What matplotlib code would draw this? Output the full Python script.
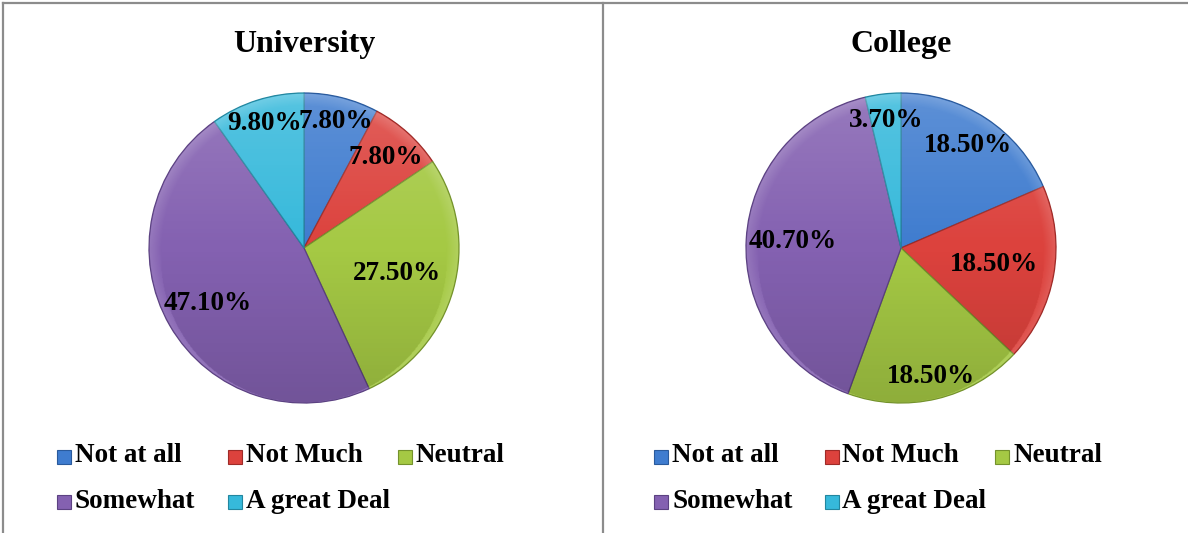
import numpy as np
import matplotlib.pyplot as plt
from matplotlib.patches import Rectangle, Circle
from matplotlib.lines import Line2D

# survey answers, percent of respondents
categories = ['Not at all', 'Not Much', 'Neutral', 'Somewhat', 'A great Deal']
university = [7.8, 7.8, 27.5, 47.1, 9.8]
college = [18.5, 18.5, 18.5, 40.7, 3.7]
titles = ['University', 'College']

colors = ['#3F7CCF', '#DC423D', '#A5C944', '#8461B1', '#36B9DB']
edges = ['#2A5A9C', '#9E2B28', '#74922C', '#5C4282', '#23869F']

# label distance from centre for each slice (fraction of radius)
uni_dist = [0.84, 0.79, 0.62, 0.72, 0.84]
col_dist = [0.79, 0.61, 0.85, 0.70, 0.83]

font = 'Liberation Serif'

W, H = 1188, 533
fig = plt.figure(figsize=(W / 100, H / 100), dpi=100)
fig.patch.set_facecolor('white')

# panel frame lines
grey = '#8C8C8C'
fig.add_artist(Line2D([3 / W, 3 / W], [0, 1 - 3 / H], color=grey, lw=1.6))
fig.add_artist(Line2D([3 / W, 1], [1 - 3 / H, 1 - 3 / H], color=grey, lw=1.6))
fig.add_artist(Line2D([603 / W, 603 / W], [0, 1 - 3 / H], color=grey, lw=1.6))

# soft shading laid over each pie: lighter at the top, darker at the bottom,
# with a thin bright rim
n = 400
gx, gy = np.meshgrid(np.linspace(-1, 1, n), np.linspace(1, -1, n))
rr = np.hypot(gx, gy)
shade = np.zeros((n, n, 4))
light = np.clip(gy, 0, 1) * 0.16 + np.clip((rr - 0.92) / 0.08, 0, 1) * 0.14
dark = np.clip(-gy, 0, 1) * 0.14
shade[..., :3] = np.where((light > dark)[..., None], 1.0, 0.0)
shade[..., 3] = np.maximum(light, dark)

centres = [304, 901]
radius = 155
cy = 248

for k, (vals, dist, title) in enumerate(zip([university, college],
                                             [uni_dist, col_dist], titles)):
    cx = centres[k]
    ax = fig.add_axes([(cx - radius) / W, (H - cy - radius) / H,
                       2 * radius / W, 2 * radius / H])
    wedges, _ = ax.pie(vals, colors=colors, startangle=90, counterclock=False,
                       radius=1.0, wedgeprops=dict(linewidth=0.9))
    for w, ec in zip(wedges, edges):
        w.set_edgecolor(ec)

    im = ax.imshow(shade, extent=(-1, 1, -1, 1), zorder=3, interpolation='bilinear')
    im.set_clip_path(Circle((0, 0), 0.995, transform=ax.transData))

    total = sum(vals)
    cum = 0
    for v, d in zip(vals, dist):
        mid = 90 - (cum + v / 2) / total * 360
        cum += v
        a = np.deg2rad(mid)
        ax.text(d * np.cos(a), d * np.sin(a), f'{v:.2f}%', ha='center',
                va='center', fontsize=19.5, fontweight='bold', family=font,
                zorder=5)
    ax.set_xlim(-1, 1)
    ax.set_ylim(-1, 1)
    ax.set_aspect('equal')
    ax.axis('off')

    fig.text(cx / W, 1 - 45 / H, title, ha='center', va='center',
             fontsize=23, fontweight='bold', family=font)

    # legend, three entries per row
    x0 = cx - 247
    for i, (name, c, ec) in enumerate(zip(categories, colors, edges)):
        row, col = divmod(i, 3)
        x = x0 + col * 170.5
        y = 457 + row * 45
        fig.add_artist(Rectangle((x / W, (H - y - 7) / H), 14 / W, 14 / H,
                                 facecolor=c, edgecolor=ec, lw=0.8,
                                 transform=fig.transFigure))
        fig.text((x + 18) / W, 1 - (y - 1) / H, name, ha='left', va='center',
                 fontsize=19.5, fontweight='bold', family=font)

fig.savefig('out.png', dpi=100)
